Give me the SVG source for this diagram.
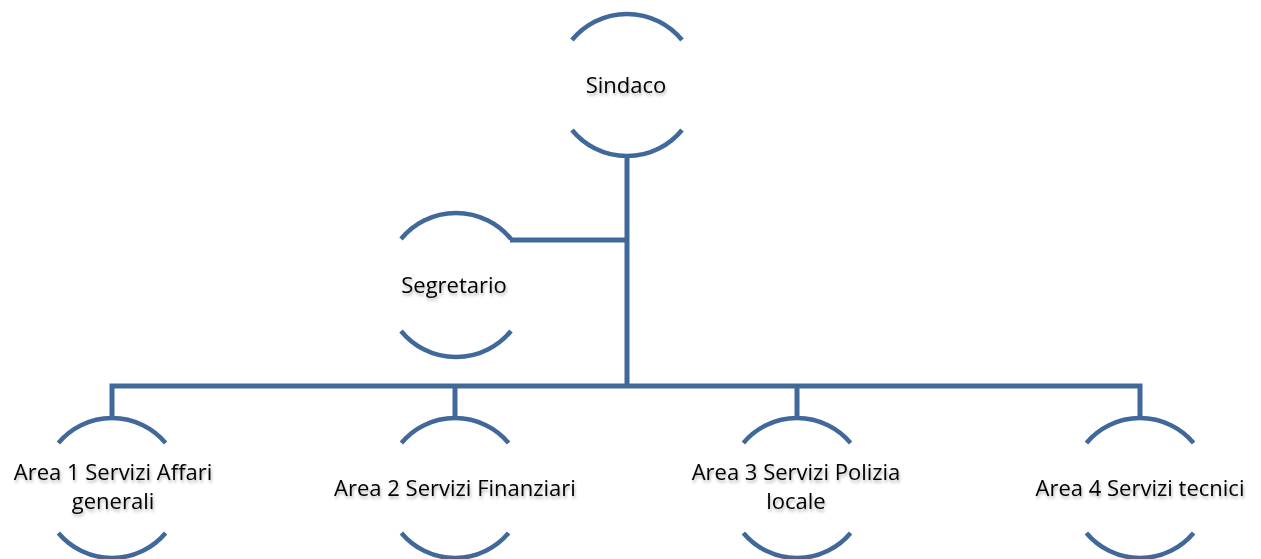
<svg xmlns="http://www.w3.org/2000/svg" width="1261" height="559" viewBox="0 0 1261 559">
<defs>
<filter id="sh" x="-10%" y="-30%" width="120%" height="180%">
<feDropShadow dx="1" dy="2.5" stdDeviation="1.6" flood-color="#000" flood-opacity="0.3"/>
</filter>
<style>
.arc{fill:none;stroke:#41689b;stroke-width:4.5}
.ln{fill:none;stroke:#41689b;stroke-width:5}
text{font-family:"Open Sans","Liberation Sans",sans-serif;font-size:22px;fill:#000;text-anchor:middle;filter:url(#sh)}
</style>
</defs>
<rect width="1261" height="559" fill="#fff"/>
<g id="connectors">
<path class="ln" d="M627,156 V386"/>
<path class="ln" d="M510,240 H627"/>
<path class="ln" d="M112,420 V386 H1140 V420"/>
<path class="ln" d="M455,386 V420"/>
<path class="ln" d="M797,386 V420"/>
</g>
<g id="sindaco">
<path class="arc" d="M572,40 A71,71 0 0 1 682,40"/>
<path class="arc" d="M572,130 A71,71 0 0 0 682,130"/>
<text x="626" y="93">Sindaco</text>
</g>
<g id="segretario">
<path class="arc" d="M401,239 A71,71 0 0 1 511,239"/>
<path class="arc" d="M401,331 A71,71 0 0 0 511,331"/>
<text x="454" y="293">Segretario</text>
</g>
<g id="area1">
<path class="arc" d="M58.4,443 A70,70 0 0 1 165.6,443"/>
<path class="arc" d="M58.4,533 A70,70 0 0 0 165.6,533"/>
<text x="113" y="480">Area 1 Servizi Affari</text>
<text x="113" y="509">generali</text>
</g>
<g id="area2">
<path class="arc" d="M401.4,443 A70,70 0 0 1 508.6,443"/>
<path class="arc" d="M401.4,533 A70,70 0 0 0 508.6,533"/>
<text x="455" y="496">Area 2 Servizi Finanziari</text>
</g>
<g id="area3">
<path class="arc" d="M743.4,443 A70,70 0 0 1 850.6,443"/>
<path class="arc" d="M743.4,533 A70,70 0 0 0 850.6,533"/>
<text x="796" y="480">Area 3 Servizi Polizia</text>
<text x="796" y="509">locale</text>
</g>
<g id="area4">
<path class="arc" d="M1086.4,443 A70,70 0 0 1 1193.6,443"/>
<path class="arc" d="M1086.4,533 A70,70 0 0 0 1193.6,533"/>
<text x="1140" y="496">Area 4 Servizi tecnici</text>
</g>
</svg>
